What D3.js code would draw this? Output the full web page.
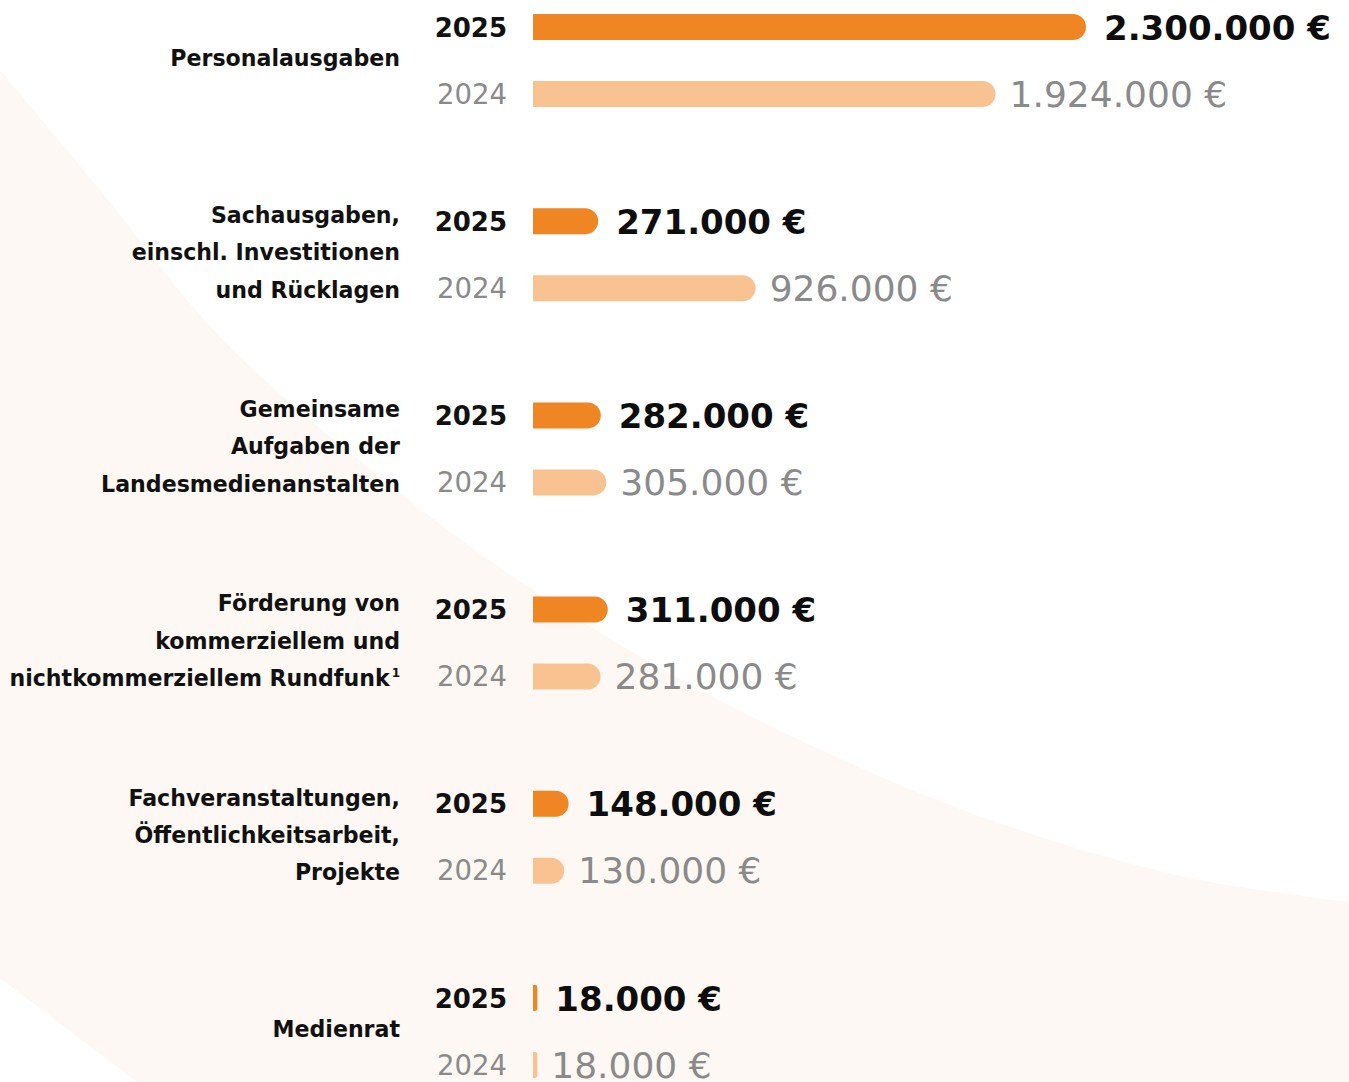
<!DOCTYPE html>
<html>
<head>
<meta charset="utf-8">
<script src="https://cdn.jsdelivr.net/npm/d3@7"></script>
<style>
  html, body { margin: 0; padding: 0; background: #ffffff; }
  svg { display: block; }
</style>
</head>
<body>
<script>
// ---------- data ----------
const categories = [
  ["Personalausgaben"],
  ["Sachausgaben,", "einschl. Investitionen", "und Rücklagen"],
  ["Gemeinsame", "Aufgaben der", "Landesmedienanstalten"],
  ["Förderung von", "kommerziellem und", "nichtkommerziellem Rundfunk"],
  ["Fachveranstaltungen,", "Öffentlichkeitsarbeit,", "Projekte"],
  ["Medienrat"]
];
const footnoteMarks = ["", "", "", "1", "", ""];
const years = ["2025", "2024"];
const values2025 = [2300000, 271000, 282000, 311000, 148000, 18000];
const values2024 = [1924000, 926000, 305000, 281000, 130000, 18000];
const series = [values2025, values2024];

// ---------- layout ----------
const W = 1349, H = 1082;
const barX0 = 533, barMaxW = 553;
const barH = 26;
const pairOffset = 33.5;
const colors = { bar: ["#f08523", "#f8c391"], year: ["#111111", "#8a8a8a"], value: ["#0d0d0d", "#8a8a8a"] };
const fontFam = "'DejaVu Sans', sans-serif";

const svg = d3.select("body").append("svg").attr("width", W).attr("height", H);

// background shape
const bgTop = [[0,70],[100,190],[223,340],[400,493],[533,590],[700,690],[900,785],[1050,840],[1200,880],[1349,902]];
const topPath = d3.line().curve(d3.curveCatmullRom)(bgTop);
svg.append("path")
  .attr("d", topPath + ` L${W},${H} L137,${H} L0,978 Z`)
  .attr("fill", "#fdf8f4");

const x = d3.scaleLinear().domain([0, d3.max(values2025.concat(values2024))]).range([barX0, barX0 + barMaxW]);
const y = d3.scalePoint().domain(d3.range(categories.length)).range([60.5, 1031.5]);

const loc = d3.formatLocale({ decimal: ",", thousands: ".", grouping: [3], currency: ["", " €"] });
const fmt = v => loc.format(",")(v) + " €";

function barPath(x0, x1, cy) {
  const w = x1 - x0;
  const h2 = barH / 2;
  const r = Math.min(h2, w / 2);
  const top = cy - h2, bot = cy + h2;
  return `M${x0},${top} H${x1 - r} A${r},${r} 0 0 1 ${x1},${top + r} V${bot - r} A${r},${r} 0 0 1 ${x1 - r},${bot} H${x0} Z`;
}

const groups = svg.selectAll("g.cat").data(categories).join("g").attr("class", "cat");

// category labels
groups.each(function(lines, i) {
  const g = d3.select(this);
  const cy = y(i);
  const lh = 37.3;
  const t = g.append("text")
    .attr("text-anchor", "end")
    .attr("font-family", fontFam)
    .attr("font-weight", "bold")
    .attr("font-size", 22.1)
    .attr("fill", "#111");
  lines.forEach((ln, k) => {
    const ts = t.append("tspan")
      .attr("x", 400)
      .attr("y", cy + (k - (lines.length - 1) / 2) * lh + 5.5)
      .text(ln);
    if (k === lines.length - 1 && footnoteMarks[i]) {
      ts.append("tspan").attr("font-size", 12).attr("dx", 2).attr("dy", -9).text(footnoteMarks[i]);
    }
  });
});

// year labels, bars, values
series.forEach((vals, s) => {
  const cyOf = i => y(i) + (s === 0 ? -pairOffset : pairOffset);
  svg.append("g").selectAll("text").data(vals).join("text")
    .attr("x", 507)
    .attr("y", (d, i) => cyOf(i) + 9.5)
    .attr("text-anchor", "end")
    .attr("font-family", fontFam)
    .attr("font-weight", s === 0 ? "bold" : "normal")
    .attr("font-size", s === 0 ? 26 : 27.5)
    .attr("fill", colors.year[s])
    .text(years[s]);

  svg.append("g").selectAll("path").data(vals).join("path")
    .attr("d", (d, i) => barPath(x(0), x(d), cyOf(i)))
    .attr("fill", colors.bar[s]);

  svg.append("g").selectAll("text").data(vals).join("text")
    .attr("x", d => x(d) + (s === 0 ? 18 : 14))
    .attr("y", (d, i) => cyOf(i) + 12.5)
    .attr("font-family", fontFam)
    .attr("font-weight", s === 0 ? "bold" : "normal")
    .attr("font-size", s === 0 ? 34 : 36)
    .attr("fill", colors.value[s])
    .text(d => fmt(d));
});
</script>
</body>
</html>
